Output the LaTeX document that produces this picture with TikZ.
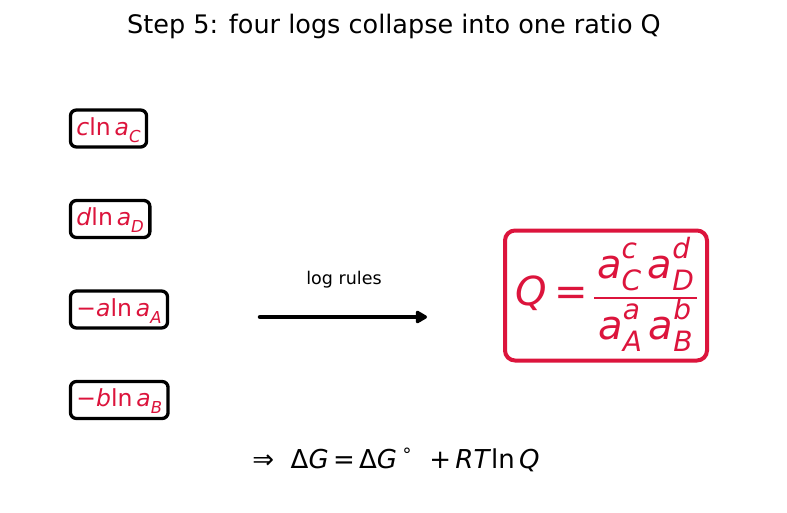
\documentclass[tikz,border=0pt]{standalone}
\usepackage{fontspec}
\setmainfont{DejaVu Sans}
\usepackage{graphicx}
\usetikzlibrary{arrows.meta}
\definecolor{qred}{RGB}{220,20,60}
\newsavebox\lsupbox
\newsavebox\lsubbox
\newlength\lswa
\newcommand\lsub[1]{\raisebox{-0.3em}{\scalebox{0.7}{\itshape #1}}}
\newcommand\lsup[1]{\raisebox{0.5em}{\scalebox{0.7}{\itshape #1}}}
\newcommand\lsupsub[2]{\sbox\lsupbox{\lsup{#1}}\sbox\lsubbox{\lsub{#2}}%
  \setlength\lswa{\wd\lsubbox}\ifdim\wd\lsupbox>\lswa\setlength\lswa{\wd\lsupbox}\fi
  \makebox[\lswa][l]{\rlap{\usebox\lsupbox}\usebox\lsubbox}}
\tikzset{
  term/.style={draw=black, line width=3.3pt, rounded corners=6pt, text=qred,
    font=\fontsize{23.5}{28}\selectfont, inner xsep=6pt, inner ysep=0pt,
    text height=18pt, text depth=5pt, minimum height=37pt, anchor=west},
  qbox/.style={draw=qred, line width=4pt, rounded corners=10pt,
    minimum width=202pt, minimum height=130pt},
  qtext/.style={text=qred, font=\fontsize{40}{48}\selectfont, inner sep=0pt, anchor=base},
  flow/.style={line width=4.5pt, line cap=round, -{Triangle[length=13pt,width=14pt,round]}},
}
\begin{document}
\begin{tikzpicture}[x=1pt, y=-1pt]
\useasboundingbox (0,0) rectangle (787,512);
\fill[white] (0,0) rectangle (787,512);
\node[font=\fontsize{25.5}{30}\selectfont, anchor=base, inner sep=0pt] (title) at (394,33) {Step 5: four logs collapse into one ratio Q};
\node[term] (tc) at (68.8,128.5) {\textit{c}ln\,\textit{a}\lsub{C}};
\node[term] (td) at (68.8,219) {\textit{d}ln\,\textit{a}\lsub{D}};
\node[term] (ta) at (68.8,309.5) {−\textit{a}ln\,\textit{a}\lsub{A}};
\node[term] (tb) at (68.8,400) {−\textit{b}ln\,\textit{a}\lsub{B}};
\coordinate (a1) at (260,317);
\coordinate (a2) at (427,317);
\draw[flow] (a1) -- (a2);
\node[font=\fontsize{17.5}{21}\selectfont, inner sep=0pt] (lr) at (344,280) {log rules};
\node[qbox] (q) at (606,295.5) {};
\node[qtext, anchor=base west] (qeq) at (515,305) {\textit{Q}\kern0.2em=};
\node[qtext] (num) at (645.5,278) {\textit{a}\lsupsub{c}{C}\,\textit{a}\lsupsub{d}{D}};
\node[qtext] (den) at (645.5,339) {\textit{a}\lsupsub{a}{A}\,\textit{a}\lsupsub{b}{B}};
\draw[qred, line width=1.8pt] (594,298) -- (697,298);
\node[font=\fontsize{26}{31}\selectfont, anchor=base, inner sep=0pt] (res) at (396,468)
  {⇒\ \ Δ\textit{G}\,=\,Δ\textit{G}\,\raisebox{0.45em}{\scalebox{0.7}{∘}}\ \ +\,\textit{RT}ln\,\textit{Q}};
\end{tikzpicture}
\end{document}
